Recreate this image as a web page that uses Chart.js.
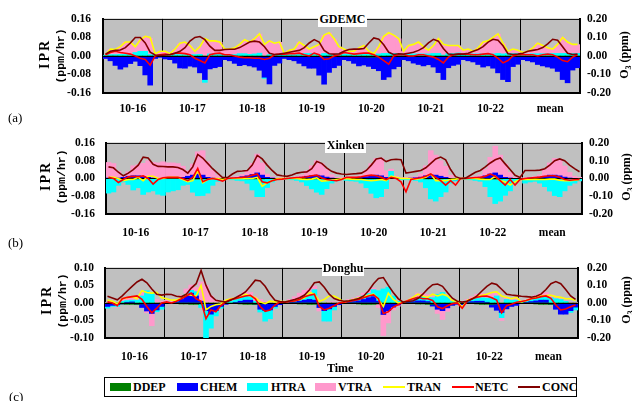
<!DOCTYPE html>
<html>
<head>
<meta charset="utf-8">
<script src="https://cdn.jsdelivr.net/npm/chart.js@4"></script>
<style>
  body { margin: 0; width: 632px; height: 401px; overflow: hidden; position: relative; background: #fff;
         font-family: 'Liberation Serif', 'Times New Roman', serif; color: #000; }
  canvas { position: absolute; left: 0; }
  .lbl { position: absolute; font-size: 13px; line-height: 16px; }
  .ttl { position: absolute; background: #fff; font-weight: bold; font-size: 12px; text-align: center; line-height: 16px; }
  .rot { position: absolute; transform: translate(-50%, -50%) rotate(-90deg); white-space: nowrap; font-weight: bold; }
  .ipr { font-size: 14px; letter-spacing: 2px; }
  .unit { font-family: 'Liberation Mono', 'Courier New', monospace; font-size: 11.5px; }
  .o3 { font-size: 12px; }
  .o3 sub { font-size: 8px; }
  #legend { position: absolute; left: 104px; top: 377px; width: 471px; height: 18px; border: 1.5px solid #000; }
  .sw { position: absolute; top: 383px; width: 21px; height: 8px; }
  .ln { position: absolute; top: 386px; width: 22px; height: 2px; }
  .lt { position: absolute; top: 379px; font-weight: bold; font-size: 12px; line-height: 16px; }
</style>
</head>
<body>
<canvas id="chartA" width="632" height="125" style="top:0px"></canvas>
<canvas id="chartB" width="632" height="120" style="top:125px"></canvas>
<canvas id="chartC" width="632" height="115" style="top:250px"></canvas>

<div class="ttl" style="left:318px;top:11px;width:49px;">GDEMC</div>
<div class="ttl" style="left:325px;top:137px;width:41px;">Xinken</div>
<div class="ttl" style="left:322px;top:260px;width:42px;">Donghu</div>

<div class="lbl" style="left:8px;top:110px;">(a)</div>
<div class="lbl" style="left:8px;top:235px;">(b)</div>
<div class="lbl" style="left:9px;top:389px;">(c)</div>

<div class="rot ipr" style="left:45px;top:54px;">IPR</div>
<div class="rot unit" style="left:60px;top:56px;">(ppm/hr)</div>
<div class="rot ipr" style="left:46px;top:176px;">IPR</div>
<div class="rot unit" style="left:61px;top:177px;">(ppm/hr)</div>
<div class="rot ipr" style="left:47px;top:300px;">IPR</div>
<div class="rot unit" style="left:62px;top:301px;">(ppm/hr)</div>

<div class="rot o3" style="left:625px;top:55px;">O<sub>3</sub> (ppm)</div>
<div class="rot o3" style="left:627px;top:177px;">O<sub>3</sub> (ppm)</div>
<div class="rot o3" style="left:627px;top:300px;">O<sub>3</sub> (ppm)</div>

<div class="lbl" style="left:327px;top:360px;font-weight:bold;font-size:12px;">Time</div>

<div id="legend"></div>
<div class="sw" style="left:110px;background:#008000"></div><div class="lt" style="left:133px">DDEP</div>
<div class="sw" style="left:177px;background:#0000ff"></div><div class="lt" style="left:200px">CHEM</div>
<div class="sw" style="left:247px;background:#00ffff"></div><div class="lt" style="left:271px">HTRA</div>
<div class="sw" style="left:315px;background:#ff99cc"></div><div class="lt" style="left:338px">VTRA</div>
<div class="ln" style="left:383px;background:#ffff00"></div><div class="lt" style="left:407px">TRAN</div>
<div class="ln" style="left:452px;background:#ff0000"></div><div class="lt" style="left:475px">NETC</div>
<div class="ln" style="left:518px;background:#800000"></div><div class="lt" style="left:542px">CONC</div>

<script>
// categories: 8 days x 12 two-hour steps
const days = ['10-16', '10-17', '10-18', '10-19', '10-20', '10-21', '10-22', 'mean'];
const hours = ['00', '02', '04', '06', '08', '10', '12', '14', '16', '18', '20', '22'];

// ---- (a) GDEMC ----
const aDDEP = [
  -0.001,-0.001,-0.001,-0.002,-0.003,-0.003,-0.003,-0.002,-0.002,-0.001,-0.001,-0.001,
  -0.001,-0.001,-0.001,-0.002,-0.003,-0.004,-0.003,-0.003,-0.002,-0.001,-0.001,-0.001,
  -0.001,-0.001,-0.002,-0.002,-0.003,-0.003,-0.003,-0.002,-0.002,-0.001,-0.001,-0.001,
  -0.001,-0.001,-0.001,-0.002,-0.003,-0.003,-0.003,-0.003,-0.002,-0.001,-0.001,-0.001,
  -0.001,-0.001,-0.002,-0.003,-0.004,-0.005,-0.005,-0.004,-0.002,-0.001,-0.001,-0.001,
  -0.001,-0.001,-0.001,-0.002,-0.003,-0.003,-0.003,-0.002,-0.002,-0.001,-0.001,-0.001,
  -0.001,-0.001,-0.001,-0.002,-0.003,-0.003,-0.003,-0.003,-0.002,-0.001,-0.001,-0.001,
  -0.001,-0.001,-0.001,-0.002,-0.003,-0.003,-0.003,-0.002,-0.002,-0.001,-0.001,-0.001];
const aCHEM = [
  -0.01,-0.02,-0.04,-0.055,-0.045,-0.03,-0.02,-0.04,-0.08,-0.125,-0.01,-0.005,
  -0.012,-0.015,-0.03,-0.05,-0.05,-0.04,-0.045,-0.07,-0.1,-0.055,-0.05,-0.045,
  -0.015,-0.02,-0.03,-0.04,-0.035,-0.04,-0.045,-0.06,-0.09,-0.12,-0.04,-0.03,
  -0.01,-0.015,-0.02,-0.03,-0.04,-0.05,-0.05,-0.08,-0.12,-0.07,-0.05,-0.04,
  -0.015,-0.02,-0.03,-0.04,-0.035,-0.04,-0.05,-0.06,-0.1,-0.09,-0.055,-0.045,
  -0.015,-0.02,-0.03,-0.035,-0.04,-0.035,-0.045,-0.07,-0.1,-0.05,-0.04,-0.035,
  -0.015,-0.02,-0.025,-0.035,-0.045,-0.04,-0.05,-0.07,-0.1,-0.11,-0.045,-0.035,
  -0.015,-0.02,-0.025,-0.035,-0.04,-0.045,-0.05,-0.065,-0.1,-0.115,-0.06,-0.05];
const aHTRA = [
  0.003,0.006,0.006,0.007,0.007,0.007,0.015,0.02,0.02,0.006,0.003,0.003,
  0.004,0.004,0.006,0.006,0.006,0.006,0.006,0.007,-0.012,0.009,0.009,0.009,
  0.006,0.006,0.006,0.01,0.01,0.007,0.009,0.012,-0.005,0.006,0.006,0.006,
  0.005,0.006,0.006,0.01,0.011,0.011,0.011,0.006,0.011,0.007,0.006,0.009,
  0.009,0.009,0.009,0.009,0.009,0.007,0.004,0.009,0.011,0.011,0.011,0.011,
  0.009,0.009,0.009,0.009,0.009,0.009,0.011,0.011,0.004,0.011,0.011,0.013,
  0.009,0.009,0.009,0.009,0.009,0.009,0.009,0.011,0.009,0.011,0.011,0.011,
  0.007,0.008,0.01,0.01,0.01,0.01,0.011,0.011,0.011,0.011,0.011,0.011];
const aVTRA = [
  0.0,0.022,0.02,0.032,0.052,0.052,0.025,0.05,0.065,0.07,0.005,0.015,
  0.015,0.006,0.022,0.047,0.052,0.037,0.012,0.032,0.07,0.055,0.055,0.05,
  0.022,0.022,0.027,0.038,0.058,0.052,0.065,0.082,0.05,0.058,0.048,0.053,
  0.005,0.018,0.023,0.048,0.033,0.018,0.028,0.043,0.078,0.092,0.068,0.03,
  0.02,0.01,0.01,0.025,0.035,0.012,0.006,0.03,0.073,0.088,0.078,0.063,
  0.01,0.035,0.04,0.05,0.03,0.015,0.033,0.063,0.045,0.033,0.033,0.031,
  0.015,0.02,0.01,0.025,0.05,0.055,0.07,0.083,0.045,0.008,0.018,0.013,
  0.008,0.012,0.025,0.045,0.035,0.025,0.018,0.038,0.068,0.048,0.038,0.038];
const aTRAN = [
  0.005,0.03,0.028,0.04,0.06,0.06,0.04,0.07,0.085,0.08,0.01,0.02,
  0.02,0.01,0.03,0.055,0.06,0.045,0.02,0.04,0.075,0.065,0.065,0.06,
  0.03,0.03,0.035,0.05,0.07,0.06,0.075,0.095,0.05,0.065,0.055,0.06,
  0.01,0.025,0.03,0.06,0.045,0.03,0.04,0.05,0.09,0.1,0.075,0.04,
  0.03,0.02,0.02,0.035,0.045,0.02,0.01,0.04,0.085,0.1,0.09,0.075,
  0.02,0.045,0.05,0.06,0.04,0.025,0.045,0.075,0.05,0.045,0.045,0.045,
  0.025,0.03,0.02,0.035,0.06,0.065,0.08,0.095,0.055,0.02,0.03,0.025,
  0.015,0.02,0.035,0.055,0.045,0.035,0.03,0.05,0.08,0.06,0.05,0.05];
const aNETC = [
  0.005,0.015,0.02,0.015,0.012,0.008,0.0,-0.01,-0.015,-0.04,0.0,0.005,
  0.008,0.005,0.012,0.012,0.01,0.005,-0.01,-0.02,-0.03,0.005,0.01,0.012,
  0.005,0.005,0.0,-0.005,-0.008,-0.008,-0.01,-0.01,-0.015,-0.01,0.005,0.008,
  0.008,0.01,0.01,0.012,0.005,0.0,0.012,0.005,-0.015,-0.012,0.0,0.005,
  0.015,0.012,0.008,0.01,0.012,0.012,0.005,-0.005,-0.02,-0.035,0.0,0.005,
  0.005,0.0,0.0,0.005,0.005,0.0,-0.005,-0.015,-0.03,-0.005,0.005,0.008,
  0.008,0.008,0.005,0.005,0.008,0.01,0.005,-0.01,-0.03,-0.02,0.0,0.005,
  0.005,0.005,0.005,0.0,0.005,0.008,0.005,-0.005,-0.02,-0.025,-0.005,0.005];
const aCONC = [
  0.01,0.025,0.03,0.032,0.045,0.07,0.1,0.1,0.07,0.02,0.005,0.003,
  0.005,0.008,0.015,0.025,0.045,0.08,0.1,0.105,0.088,0.053,0.03,0.03,
  0.035,0.036,0.036,0.045,0.06,0.075,0.08,0.075,0.05,0.015,0.008,0.01,
  0.015,0.02,0.025,0.03,0.045,0.07,0.088,0.075,0.03,0.012,0.01,0.012,
  0.025,0.035,0.037,0.037,0.04,0.07,0.097,0.09,0.06,0.02,0.008,0.012,
  0.01,0.015,0.02,0.03,0.045,0.07,0.09,0.08,0.04,0.01,0.007,0.01,
  0.01,0.015,0.025,0.035,0.05,0.075,0.09,0.085,0.055,0.012,0.008,0.01,
  0.015,0.025,0.03,0.035,0.045,0.065,0.09,0.085,0.05,0.015,0.008,0.01];

// ---- (b) Xinken ----
const bDDEP = [
  -0.001,-0.001,-0.001,-0.001,-0.002,-0.002,-0.002,-0.002,-0.001,-0.001,-0.001,-0.001,
  -0.001,-0.001,-0.001,-0.001,-0.002,-0.002,-0.003,-0.002,-0.001,-0.001,-0.001,-0.001,
  -0.001,-0.001,-0.001,-0.001,-0.002,-0.002,-0.002,-0.002,-0.001,-0.001,-0.001,-0.001,
  -0.001,-0.001,-0.001,-0.001,-0.002,-0.002,-0.002,-0.002,-0.001,-0.001,-0.001,-0.001,
  -0.001,-0.001,-0.001,-0.001,-0.002,-0.002,-0.002,-0.002,-0.001,-0.001,-0.001,-0.001,
  -0.001,-0.001,-0.001,-0.001,-0.002,-0.002,-0.002,-0.002,-0.001,-0.001,-0.001,-0.001,
  -0.001,-0.001,-0.001,-0.001,-0.002,-0.002,-0.003,-0.002,-0.001,-0.001,-0.001,-0.001,
  -0.001,-0.001,-0.001,-0.001,-0.002,-0.002,-0.002,-0.002,-0.001,-0.001,-0.001,-0.001];
const bCHEM = [
  0.002,0.002,0.002,0.005,0.01,0.012,0.012,0.008,0.005,0.002,0.0,0.0,
  0.0,0.0,0.002,0.005,0.01,0.015,0.02,0.015,0.005,0.002,0.0,0.0,
  0.0,0.002,0.005,0.008,0.012,0.018,0.025,0.015,0.005,0.002,0.0,0.0,
  0.0,0.002,0.004,0.006,0.01,0.012,0.015,0.012,0.006,0.002,0.0,0.0,
  0.0,0.002,0.003,0.005,0.008,0.012,0.015,0.012,0.005,0.002,0.0,0.0,
  0.0,0.002,0.003,0.006,0.012,0.015,0.015,0.01,0.005,0.0,-0.005,0.0,
  0.0,0.002,0.004,0.006,0.012,0.02,0.025,0.015,0.005,0.002,0.0,0.0,
  0.0,0.002,0.004,0.006,0.01,0.015,0.015,0.012,0.006,0.002,0.0,0.0];
const bHTRA = [
  -0.065,-0.06,-0.03,-0.015,-0.025,-0.05,-0.04,-0.07,-0.06,-0.055,-0.07,-0.075,
  -0.06,-0.055,-0.05,-0.03,-0.025,-0.06,-0.075,-0.075,-0.065,-0.03,-0.012,-0.005,
  -0.002,-0.005,-0.008,-0.01,-0.02,-0.05,-0.08,-0.08,-0.04,-0.015,-0.005,-0.003,
  -0.003,-0.005,-0.008,-0.015,-0.03,-0.045,-0.06,-0.07,-0.045,-0.02,-0.01,-0.005,
  -0.008,-0.01,-0.012,-0.02,-0.04,-0.065,-0.085,-0.08,-0.045,0.03,0.005,-0.005,
  -0.005,-0.005,-0.008,-0.015,-0.04,-0.09,-0.1,-0.08,-0.06,-0.02,-0.005,0.0,
  -0.003,-0.005,-0.008,-0.012,-0.035,-0.08,-0.11,-0.1,-0.075,-0.055,-0.02,-0.005,
  -0.02,-0.015,-0.012,-0.02,-0.035,-0.055,-0.075,-0.08,-0.055,-0.03,-0.02,-0.01];
const bVTRA = [
  0.07,0.065,0.03,0.005,0.02,0.045,0.05,0.06,0.075,0.07,0.07,0.075,
  0.07,0.07,0.065,0.05,0.025,0.05,0.1,0.11,0.07,0.035,0.015,0.0,
  0.0,0.005,0.005,0.01,0.02,0.05,0.085,0.055,0.015,0.005,0.003,0.003,
  0.0,0.002,0.005,0.01,0.025,0.045,0.065,0.055,0.035,0.015,0.005,0.003,
  0.005,0.005,0.005,0.01,0.03,0.055,0.075,0.08,0.03,0.01,0.005,0.003,
  0.005,0.005,0.005,0.015,0.045,0.11,0.09,0.07,0.05,0.015,0.003,0.0,
  0.002,0.003,0.005,0.01,0.03,0.075,0.12,0.09,0.06,0.025,0.005,0.002,
  0.003,0.003,0.005,0.01,0.03,0.055,0.075,0.075,0.05,0.025,0.01,0.005];
const bTRAN = [
  0.005,0.005,0.0,-0.01,-0.005,-0.005,0.005,-0.01,0.01,0.01,0.0,0.0,
  0.005,0.005,0.005,-0.005,-0.015,-0.01,0.035,-0.02,-0.005,0.0,0.0,-0.005,
  0.0,0.0,0.0,0.0,0.0,0.0,0.005,-0.035,-0.02,-0.01,-0.002,0.0,
  0.0,0.0,0.0,-0.003,-0.005,-0.003,0.003,-0.012,-0.01,-0.008,-0.005,-0.002,
  0.0,-0.003,-0.005,-0.005,-0.008,-0.01,-0.008,-0.005,-0.01,0.01,0.005,0.0,
  0.0,0.0,-0.003,0.0,0.005,0.02,-0.01,-0.01,-0.01,-0.005,-0.003,0.0,
  0.0,0.0,0.0,-0.003,-0.005,-0.005,0.01,-0.01,-0.015,-0.03,-0.015,-0.005,
  -0.005,-0.005,-0.004,-0.005,-0.005,-0.003,-0.003,-0.008,-0.01,-0.01,-0.008,-0.005];
const bNETC = [
  0.005,0.0,-0.018,-0.005,0.007,0.01,0.008,0.012,0.0,-0.025,-0.005,0.003,
  0.005,0.005,0.005,0.0,-0.01,0.005,0.045,-0.015,-0.005,0.0,-0.005,-0.012,
  0.0,0.002,0.003,0.005,0.008,0.015,0.02,-0.015,-0.02,-0.01,-0.005,-0.003,
  0.0,0.002,0.004,0.005,0.008,0.012,0.015,0.002,-0.005,-0.008,-0.01,-0.005,
  0.005,0.005,0.005,0.008,0.012,0.015,0.012,0.005,-0.005,0.005,0.0,-0.015,
  -0.06,-0.005,0.0,0.003,0.01,0.02,0.005,-0.01,-0.03,-0.01,-0.03,0.0,
  0.0,0.002,0.004,0.005,0.01,0.02,0.01,-0.01,-0.03,-0.005,-0.03,-0.005,
  0.0,0.002,0.004,0.006,0.01,0.012,0.012,0.005,-0.005,-0.008,-0.006,-0.005];
const bCONC = [
  0.065,0.06,0.035,0.015,0.03,0.05,0.075,0.12,0.115,0.08,0.068,0.067,
  0.065,0.065,0.062,0.05,0.03,0.065,0.135,0.115,0.085,0.055,0.03,0.005,
  0.005,0.025,0.04,0.042,0.045,0.075,0.13,0.11,0.075,0.045,0.02,0.015,
  0.012,0.02,0.03,0.035,0.037,0.055,0.095,0.085,0.06,0.04,0.03,0.025,
  0.022,0.025,0.027,0.03,0.045,0.075,0.11,0.115,0.095,0.105,0.108,0.105,
  0.03,0.035,0.04,0.045,0.06,0.085,0.11,0.12,0.105,0.05,0.01,0.0,
  0.002,0.018,0.035,0.045,0.065,0.087,0.105,0.115,0.082,0.05,0.018,0.005,
  0.045,0.045,0.045,0.047,0.055,0.075,0.1,0.11,0.1,0.075,0.055,0.038];

// ---- (c) Donghu ----
const cDDEP = [
  -0.002,-0.002,-0.002,-0.003,-0.004,-0.004,-0.004,-0.003,-0.003,-0.002,-0.002,-0.002,
  -0.002,-0.002,-0.002,-0.003,-0.003,-0.004,-0.004,-0.003,-0.002,-0.002,-0.002,-0.002,
  -0.002,-0.002,-0.002,-0.003,-0.004,-0.004,-0.004,-0.003,-0.002,-0.002,-0.002,-0.002,
  -0.002,-0.002,-0.002,-0.003,-0.003,-0.004,-0.004,-0.003,-0.002,-0.002,-0.002,-0.002,
  -0.002,-0.002,-0.002,-0.003,-0.004,-0.004,-0.004,-0.003,-0.003,-0.002,-0.002,-0.002,
  -0.002,-0.002,-0.002,-0.003,-0.003,-0.004,-0.004,-0.003,-0.002,-0.002,-0.002,-0.002,
  -0.002,-0.002,-0.002,-0.003,-0.004,-0.004,-0.004,-0.003,-0.002,-0.002,-0.002,-0.002,
  -0.002,-0.002,-0.002,-0.003,-0.004,-0.004,-0.004,-0.003,-0.002,-0.002,-0.002,-0.002];
const cCHEM = [
  -0.008,-0.005,-0.003,0.0,0.002,0.003,0.0,-0.01,-0.02,-0.028,-0.018,-0.008,
  0.0,0.0,0.003,0.01,0.02,0.028,0.02,0.005,-0.02,-0.03,-0.02,-0.008,
  -0.002,0.0,0.002,0.005,0.008,0.008,0.0,-0.015,-0.02,-0.018,-0.008,-0.003,
  0.0,0.002,0.003,0.005,0.008,0.01,0.008,-0.01,-0.02,-0.015,-0.008,-0.003,
  0.0,0.002,0.004,0.006,0.01,0.015,0.018,0.005,-0.03,-0.02,-0.01,-0.004,
  0.0,0.002,0.004,0.006,0.006,0.004,-0.005,-0.015,-0.02,-0.012,-0.005,-0.002,
  -0.003,0.002,0.004,0.005,0.005,0.002,-0.008,-0.018,-0.025,-0.015,-0.008,-0.005,
  0.0,0.002,0.004,0.006,0.008,0.008,0.0,-0.015,-0.03,-0.03,-0.02,-0.01];
const cHTRA = [
  -0.005,-0.003,-0.005,0.005,0.005,0.005,0.008,0.02,0.035,0.03,-0.005,-0.008,
  0.003,0.002,0.002,0.003,0.005,0.008,0.012,-0.01,-0.08,-0.04,-0.015,-0.005,
  0.003,0.005,0.008,0.01,0.012,0.01,0.005,-0.008,-0.03,-0.025,-0.005,0.003,
  0.002,0.003,0.005,0.008,0.01,0.015,0.03,0.0,-0.03,-0.035,-0.01,0.0,
  0.003,0.005,0.006,0.008,0.01,0.012,0.02,0.03,0.04,0.045,0.02,0.005,
  0.002,0.003,0.005,0.01,0.012,0.012,0.015,0.025,0.03,0.02,0.005,0.002,
  0.002,0.004,0.006,0.008,0.01,0.012,0.015,0.02,-0.015,0.01,0.008,0.008,
  0.002,0.004,0.006,0.008,0.01,0.012,0.015,0.012,0.01,0.005,-0.005,-0.008];
const cVTRA = [
  0.002,0.0,-0.002,0.005,0.008,0.01,0.006,0.012,-0.005,-0.035,0.01,0.005,
  0.005,0.003,0.003,0.008,0.015,0.015,0.012,0.055,0.05,0.02,0.008,0.003,
  0.003,0.005,0.006,0.008,0.012,0.012,0.012,0.01,0.005,0.003,0.002,0.002,
  0.003,0.005,0.01,0.015,0.018,0.015,0.01,-0.01,0.0,0.003,0.003,0.003,
  0.002,0.003,0.004,0.005,0.008,0.008,0.005,-0.01,-0.06,-0.035,-0.008,-0.003,
  0.001,0.003,0.008,0.012,0.01,0.008,0.005,-0.012,-0.025,-0.01,0.002,0.002,
  0.002,0.004,0.008,0.012,0.012,0.012,0.012,0.01,-0.008,0.005,0.004,0.006,
  0.002,0.003,0.005,0.008,0.01,0.01,0.008,0.006,0.005,0.003,0.002,0.002];
const cTRAN = [
  0.008,0.005,-0.003,0.012,0.015,0.018,0.012,0.035,0.03,0.028,0.03,0.015,
  0.012,0.008,0.008,0.015,0.025,0.022,0.02,0.05,-0.02,-0.01,-0.005,-0.003,
  0.008,0.012,0.014,0.016,0.025,0.02,0.015,0.003,-0.002,0.005,0.003,0.005,
  0.003,0.005,0.007,0.01,0.015,0.03,0.025,0.005,0.01,0.02,0.02,0.012,
  0.002,0.006,0.01,0.014,0.018,0.022,0.025,0.01,-0.01,0.028,0.01,0.0,
  0.002,0.007,0.016,0.025,0.02,0.016,0.025,0.02,0.025,0.02,0.007,0.004,
  -0.012,0.007,0.012,0.02,0.022,0.025,0.03,0.032,0.02,0.016,0.012,0.016,
  0.003,0.007,0.012,0.016,0.02,0.021,0.022,0.018,0.016,0.012,0.012,0.007];
const cNETC = [
  0.003,0.0,-0.008,0.012,0.016,0.018,0.02,0.01,-0.01,-0.028,-0.015,0.0,
  0.003,0.0,0.005,0.012,0.02,0.028,0.012,0.005,-0.045,-0.02,-0.025,-0.008,
  0.003,0.01,0.012,0.016,0.02,0.022,0.012,-0.01,-0.024,-0.02,-0.006,0.003,
  0.002,0.004,0.006,0.01,0.018,0.022,0.025,-0.01,-0.02,-0.015,-0.008,0.0,
  0.002,0.004,0.007,0.01,0.015,0.02,0.023,0.012,-0.03,-0.025,-0.012,-0.005,
  0.002,0.007,0.012,0.016,0.012,0.012,0.007,-0.011,-0.016,-0.008,-0.002,0.0,
  -0.015,0.005,0.012,0.016,0.019,0.02,0.015,0.008,-0.028,-0.008,-0.004,0.002,
  0.004,0.007,0.012,0.014,0.018,0.02,0.013,-0.006,-0.02,-0.017,-0.011,-0.006];
const cCONC = [
  0.038,0.028,0.018,0.04,0.068,0.095,0.12,0.135,0.115,0.08,0.05,0.045,
  0.05,0.048,0.038,0.035,0.05,0.085,0.11,0.185,0.1,0.04,0.015,0.01,
  0.005,0.015,0.03,0.045,0.063,0.095,0.13,0.125,0.095,0.05,0.015,0.008,
  0.005,0.012,0.02,0.03,0.045,0.075,0.115,0.12,0.09,0.05,0.025,0.015,
  0.01,0.013,0.018,0.025,0.04,0.07,0.11,0.14,0.145,0.1,0.06,0.025,
  0.005,0.008,0.012,0.025,0.05,0.08,0.104,0.108,0.095,0.06,0.027,0.01,
  0.005,0.01,0.022,0.04,0.068,0.095,0.113,0.105,0.078,0.05,0.045,0.042,
  0.038,0.036,0.033,0.038,0.05,0.077,0.11,0.122,0.11,0.077,0.04,0.02];

const labels = days.flatMap(d => hours.map(h => d + ' ' + h));

Chart.defaults.font.family = "'Liberation Serif', 'Times New Roman', serif";
Chart.defaults.font.size = 11.5;
Chart.defaults.font.weight = 'bold';
Chart.defaults.color = '#000';

const fmt = v => (Math.abs(v) < 1e-9 ? '0.00' : v.toFixed(2));

// gray plot area + thin top frame
const plotBack = {
  id: 'plotBack',
  beforeDraw(chart) {
    const a = chart.chartArea, ctx = chart.ctx;
    ctx.save();
    ctx.fillStyle = '#c0c0c0';
    ctx.fillRect(a.left, a.top, a.right - a.left, a.bottom - a.top);
    ctx.strokeStyle = '#000';
    ctx.lineWidth = 1;
    ctx.beginPath();
    ctx.moveTo(a.left, a.top + 0.5);
    ctx.lineTo(a.right, a.top + 0.5);
    ctx.stroke();
    ctx.restore();
  },
  // zero line between the bars and the lines
  afterDatasetDraw(chart, args) {
    if (args.index !== 0) return;
    const a = chart.chartArea, ctx = chart.ctx;
    const y = Math.round(chart.scales.y.getPixelForValue(0)) + 0.5;
    ctx.save();
    ctx.strokeStyle = '#000';
    ctx.lineWidth = 1;
    ctx.beginPath();
    ctx.moveTo(a.left, y);
    ctx.lineTo(a.right, y);
    ctx.stroke();
    ctx.restore();
  }
};

function panel(id, s, o) {
  return new Chart(document.getElementById(id), {
    type: 'bar',
    data: {
      labels: labels,
      datasets: [
        { label: 'DDEP', data: s.ddep, backgroundColor: '#008000', order: 4 },
        { label: 'CHEM', data: s.chem, backgroundColor: '#0000ff', order: 4 },
        { label: 'HTRA', data: s.htra, backgroundColor: '#00ffff', order: 4 },
        { label: 'VTRA', data: s.vtra, backgroundColor: '#ff99cc', order: 4 },
        { type: 'line', label: 'TRAN', data: s.tran, borderColor: '#ffff00', borderWidth: 1.6, pointRadius: 0, stack: 'tran', order: 3 },
        { type: 'line', label: 'NETC', data: s.netc, borderColor: '#ff0000', borderWidth: 1.6, pointRadius: 0, stack: 'netc', order: 2 },
        { type: 'line', label: 'CONC', data: s.conc, borderColor: '#800000', borderWidth: 1.6, pointRadius: 0, yAxisID: 'y2', order: 1 }
      ]
    },
    options: {
      responsive: false,
      animation: false,
      barPercentage: 1,
      categoryPercentage: 1,
      layout: { padding: { top: o.top, left: 0, right: 0, bottom: 0 } },
      scales: {
        x: {
          stacked: true,
          grid: {
            offset: true,
            drawTicks: false,
            color: c => (c.index !== undefined && c.index % 12 === 0 ? '#000' : 'rgba(0,0,0,0)')
          },
          border: { color: '#000', width: 2 },
          ticks: {
            autoSkip: false,
            maxRotation: 0,
            padding: o.xPad,
            labelOffset: -2.5,
            callback: (v, i) => (i % 12 === 6 ? days[Math.floor(i / 12)] : '')
          },
          afterFit: sc => { sc.height = o.xH; }
        },
        y: {
          position: 'left',
          stacked: true,
          min: -o.ymax,
          max: o.ymax,
          grid: { display: false, drawTicks: false },
          border: { color: '#000', width: 2 },
          ticks: { stepSize: o.ystep, padding: o.lPad, callback: fmt },
          afterFit: sc => { sc.width = o.left; }
        },
        y2: {
          position: 'right',
          min: -0.2,
          max: 0.2,
          grid: { display: false, drawTicks: false },
          border: { color: '#000', width: 2 },
          ticks: { stepSize: 0.1, padding: o.rPad, callback: fmt },
          afterFit: sc => { sc.width = o.right; }
        }
      },
      plugins: {
        legend: { display: false },
        tooltip: { enabled: false }
      }
    },
    plugins: [plotBack]
  });
}

// Panel (a) GDEMC
panel('chartA',
  { ddep: aDDEP, chem: aCHEM, htra: aHTRA, vtra: aVTRA, tran: aTRAN, netc: aNETC, conc: aCONC },
  { top: 17, xH: 32, xPad: 9, left: 103, right: 52, lPad: 12, rPad: 7, ymax: 0.16, ystep: 0.08 });

// Panel (b) Xinken
panel('chartB',
  { ddep: bDDEP, chem: bCHEM, htra: bHTRA, vtra: bVTRA, tran: bTRAN, netc: bNETC, conc: bCONC },
  { top: 14, xH: 31, xPad: 12, left: 106, right: 50, lPad: 11, rPad: 7, ymax: 0.16, ystep: 0.08 });

// Panel (c) Donghu
panel('chartC',
  { ddep: cDDEP, chem: cCHEM, htra: cHTRA, vtra: cVTRA, tran: cTRAN, netc: cNETC, conc: cCONC },
  { top: 14, xH: 27, xPad: 12, left: 105, right: 54, lPad: 11, rPad: 9, ymax: 0.10, ystep: 0.05 });
</script>
</body>
</html>
